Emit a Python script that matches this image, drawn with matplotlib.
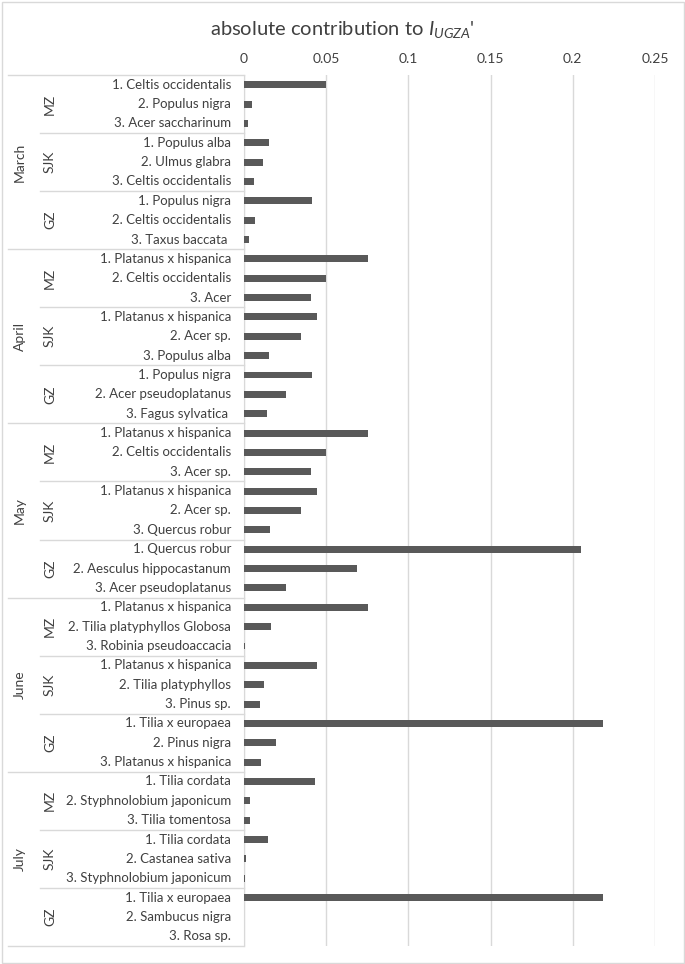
import matplotlib
matplotlib.use('Agg')
import matplotlib.pyplot as plt
from matplotlib.transforms import blended_transform_factory
import numpy as np

plt.rcParams['font.family'] = ['Lato', 'DejaVu Sans']
plt.rcParams['mathtext.fontset'] = 'custom'
plt.rcParams['mathtext.rm'] = 'Lato'
plt.rcParams['mathtext.it'] = 'Lato:italic'

# Category data
months = ['March', 'April', 'May', 'June', 'July']
sites = ['MZ', 'SJK', 'GZ']

species_march = ['1. Celtis occidentalis', '2. Populus nigra', '3. Acer saccharinum',
                 '1. Populus alba', '2. Ulmus glabra', '3. Celtis occidentalis',
                 '1. Populus nigra', '2. Celtis occidentalis', '3. Taxus baccata ']
species_april = ['1. Platanus x hispanica', '2. Celtis occidentalis', '3. Acer',
                 '1. Platanus x hispanica', '2. Acer sp.', '3. Populus alba',
                 '1. Populus nigra', '2. Acer pseudoplatanus', '3. Fagus sylvatica ']
species_may = ['1. Platanus x hispanica', '2. Celtis occidentalis', '3. Acer sp.',
               '1. Platanus x hispanica', '2. Acer sp.', '3. Quercus robur',
               '1. Quercus robur', '2. Aesculus hippocastanum', '3. Acer pseudoplatanus']
species_june = ['1. Platanus x hispanica', '2. Tilia platyphyllos Globosa', '3. Robinia pseudoaccacia',
                '1. Platanus x hispanica', '2. Tilia platyphyllos', '3. Pinus sp.',
                '1. Tilia x europaea', '2. Pinus nigra', '3. Platanus x hispanica']
species_july = ['1. Tilia cordata', '2. Styphnolobium japonicum', '3. Tilia tomentosa',
                '1. Tilia cordata', '2. Castanea sativa', '3. Styphnolobium japonicum',
                '1. Tilia x europaea', '2. Sambucus nigra', '3. Rosa sp.']

# Values
values_march = [0.0500, 0.0049, 0.0025, 0.0152, 0.0118, 0.0063, 0.0414, 0.0069, 0.0029]
values_april = [0.0752, 0.0501, 0.0408, 0.0444, 0.0349, 0.0152, 0.0414, 0.0258, 0.0138]
values_may = [0.0752, 0.0501, 0.0408, 0.0444, 0.0349, 0.0160, 0.2048, 0.0690, 0.0258]
values_june = [0.0752, 0.0164, 0.0006, 0.0444, 0.0122, 0.0095, 0.2184, 0.0193, 0.0104]
values_july = [0.0434, 0.0039, 0.0035, 0.0146, 0.0015, 0.0004, 0.2184, 0.0, 0.0]

xticks = [0, 0.05, 0.1, 0.15, 0.2, 0.25]
xtick_labels = ['0', '0.05', '0.1', '0.15', '0.2', '0.25']

species = species_march + species_april + species_may + species_june + species_july
values = values_march + values_april + values_may + values_june + values_july

W, H = 685, 964
fig = plt.figure(figsize=(W / 100, H / 100), dpi=100)
ax = fig.add_axes([244 / W, 1 - 946 / H, (655 - 244) / W, (946 - 75) / H])

grid_c = '#d9d9d9'
text_c = '#404040'

y = np.arange(len(species))
ax.barh(y, values, height=0.36, color='#595959', zorder=3)
ax.set_ylim(len(species) - 0.5, -0.5)
ax.set_xlim(0, 0.25)
ax.set_xticks(xticks)
ax.set_xticklabels(xtick_labels, color=text_c, fontsize=10)
ax.xaxis.tick_top()
ax.tick_params(axis='x', length=0, pad=7)
ax.set_yticks([])
ax.grid(axis='x', color=grid_c, lw=1, zorder=0)
for s in ['top', 'right', 'bottom']:
    ax.spines[s].set_visible(False)
ax.spines['left'].set_color(grid_c)

# hierarchical label table on the left
tr = blended_transform_factory(fig.transFigure, ax.transData)
for i, name in enumerate(species):
    ax.text(231 / W, i, name, transform=tr, ha='right', va='center', fontsize=9.5, color=text_c)

n_per_month = len(sites) * 3
for m, month in enumerate(months):
    top = m * n_per_month - 0.5
    ax.plot([8 / W, 244 / W], [top, top], transform=tr, color=grid_c, lw=1, clip_on=False)
    ax.text(20 / W, top + n_per_month / 2, month, transform=tr, rotation=90,
            ha='center', va='center', fontsize=10, color=text_c)
    for k, site in enumerate(sites):
        s_top = top + k * 3
        if k > 0:
            ax.plot([40 / W, 244 / W], [s_top, s_top], transform=tr, color=grid_c, lw=1, clip_on=False)
        ax.text(50 / W, s_top + 1.5, site, transform=tr, rotation=90,
                ha='center', va='center', fontsize=10, color=text_c)
bottom = len(species) - 0.5
ax.plot([8 / W, 244 / W], [bottom, bottom], transform=tr, color=grid_c, lw=1, clip_on=False)

fig.text(0.5, 1 - 30 / H, r"absolute contribution to $I_{UGZA}$'", ha='center', va='center',
         fontsize=14.5, color=text_c)

# chart border
fig.patches.append(plt.Rectangle((1.5 / W, 1.5 / H), 1 - 3 / W, 1 - 3 / H, transform=fig.transFigure,
                                 fill=False, edgecolor=grid_c, lw=1))

fig.savefig('out.png', dpi=100)
